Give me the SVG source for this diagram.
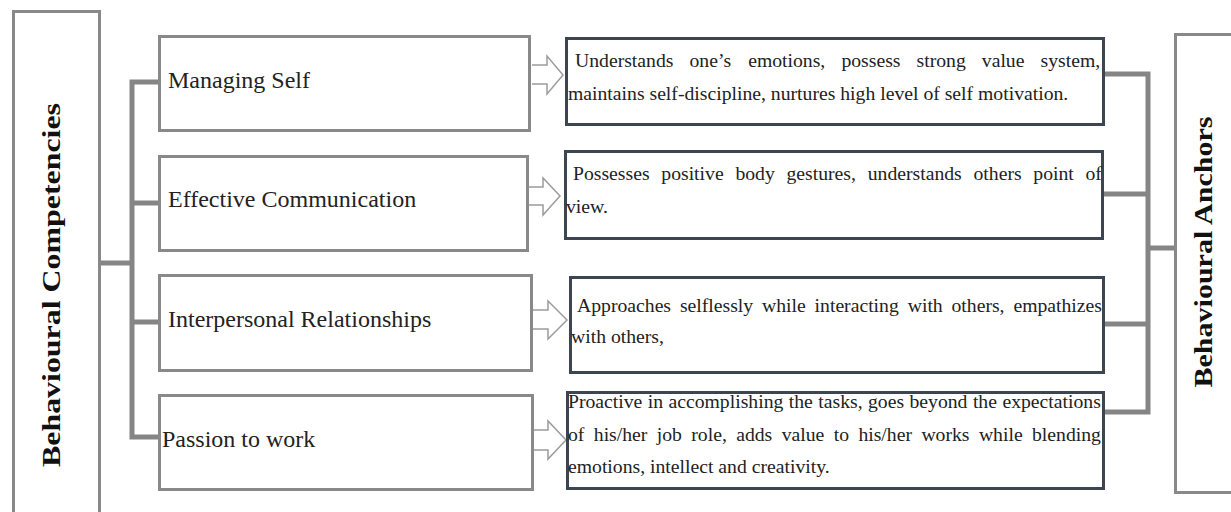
<svg xmlns="http://www.w3.org/2000/svg" width="1231" height="512" viewBox="0 0 1231 512">
<style>
.side{fill:#fff;stroke:#898989;stroke-width:3}
.comp{fill:#fff;stroke:#898989;stroke-width:3}
.anc{fill:#fff;stroke:#3c4550;stroke-width:3}
.conn{fill:none;stroke:#858585;stroke-width:5;stroke-linejoin:miter}
.arr{fill:#fff;stroke:#9c9c9c;stroke-width:1.5;stroke-linejoin:miter}
.lab{font-family:"Liberation Serif",serif;font-size:24px;fill:#222}
.desc{font-family:"Liberation Serif",serif;font-size:19.7px;fill:#222}
.title{font-family:"Liberation Serif",serif;font-size:26px;font-weight:bold;fill:#111}
</style>
<rect width="1231" height="512" fill="#fff"/>
<g id="connectors">
<path class="conn" d="M101,263 H132 M159,82 H132 V437 H159 M132,203 H159 M132,322 H159"/>
<path class="conn" d="M1104,74 H1148 V412 H1104 M1104,194 H1148 M1104,324 H1148 M1148,248 H1175"/>
<polyline class="arr" points="532,65 547,65 547,56 563,75 547,94 547,84 532,84"/>
<polyline class="arr" points="528,187 543,187 543,178 560,196 543,215 543,205 528,205"/>
<polyline class="arr" points="533,310 548,310 548,301 567,320 548,339 548,329 533,329"/>
<polyline class="arr" points="533,430 548,430 548,421 566,440 548,459 548,450 533,450"/>
</g>
<g id="behavioural-competencies">
<rect class="side" x="13.5" y="11.5" width="86" height="520"/>
<text class="title" transform="translate(60,285) rotate(-90)" text-anchor="middle" textLength="364" lengthAdjust="spacingAndGlyphs">Behavioural Competencies</text>
</g>
<g id="behavioural-anchors">
<rect class="side" x="1175.5" y="34.5" width="80" height="458"/>
<text class="title" transform="translate(1212,252) rotate(-90)" text-anchor="middle" textLength="271" lengthAdjust="spacingAndGlyphs">Behavioural Anchors</text>
</g>
<g id="managing-self">
<rect class="comp" x="159.5" y="36.5" width="370" height="94"/>
<text class="lab" x="168" y="88">Managing Self</text>
</g>
<g id="effective-communication">
<rect class="comp" x="159.5" y="156.5" width="368" height="94"/>
<text class="lab" x="168" y="207">Effective Communication</text>
</g>
<g id="interpersonal-relationships">
<rect class="comp" x="159.5" y="275.5" width="372" height="95"/>
<text class="lab" x="168" y="327">Interpersonal Relationships</text>
</g>
<g id="passion-to-work">
<rect class="comp" x="159.5" y="395.5" width="373" height="94"/>
<text class="lab" x="162" y="447">Passion to work</text>
</g>
<g id="anchor-managing-self">
<rect class="anc" x="566.5" y="38.5" width="537" height="86"/>
<text class="desc" y="67"><tspan x="575">Understands</tspan><tspan x="689.5">one’s</tspan><tspan x="748.2">emotions,</tspan><tspan x="841.4">possess</tspan><tspan x="916.5">strong</tspan><tspan x="981.8">value</tspan><tspan x="1040.5">system,</tspan></text>
<text class="desc" x="568" y="100">maintains self-discipline, nurtures high level of self motivation.</text>
</g>
<g id="anchor-effective-communication">
<rect class="anc" x="565.5" y="151.5" width="537" height="87"/>
<text class="desc" y="180"><tspan x="573">Possesses</tspan><tspan x="661.3">positive</tspan><tspan x="735.4">body</tspan><tspan x="786.5">gestures,</tspan><tspan x="867.7">understands</tspan><tspan x="973.5">others</tspan><tspan x="1033.3">point</tspan><tspan x="1085.5">of</tspan></text>
<text class="desc" x="566" y="213">view.</text>
</g>
<g id="anchor-interpersonal-relationships">
<rect class="anc" x="570.5" y="277.5" width="533" height="95"/>
<text class="desc" y="312"><tspan x="577">Approaches</tspan><tspan x="679.9">selflessly</tspan><tspan x="762">while</tspan><tspan x="814.6">interacting</tspan><tspan x="907.7">with</tspan><tspan x="951.5">others,</tspan><tspan x="1013.4">empathizes</tspan></text>
<text class="desc" x="571" y="343">with others,</text>
</g>
<g id="anchor-passion-to-work">
<rect class="anc" x="567.5" y="392.5" width="536" height="96"/>
<text class="desc" y="408"><tspan x="568">Proactive</tspan><tspan x="647.8">in</tspan><tspan x="668.5">accomplishing</tspan><tspan x="788.8">the</tspan><tspan x="818.3">tasks,</tspan><tspan x="868">goes</tspan><tspan x="909.5">beyond</tspan><tspan x="972.9">the</tspan><tspan x="1002.4">expectations</tspan></text>
<text class="desc" y="441"><tspan x="568">of</tspan><tspan x="593.8">his/her</tspan><tspan x="656.7">job</tspan><tspan x="691.3">role,</tspan><tspan x="736.2">adds</tspan><tspan x="781.7">value</tspan><tspan x="833.8">to</tspan><tspan x="858.4">his/her</tspan><tspan x="921.4">works</tspan><tspan x="978.9">while</tspan><tspan x="1032">blending</tspan></text>
<text class="desc" x="568" y="473">emotions, intellect and creativity.</text>
</g>
</svg>
